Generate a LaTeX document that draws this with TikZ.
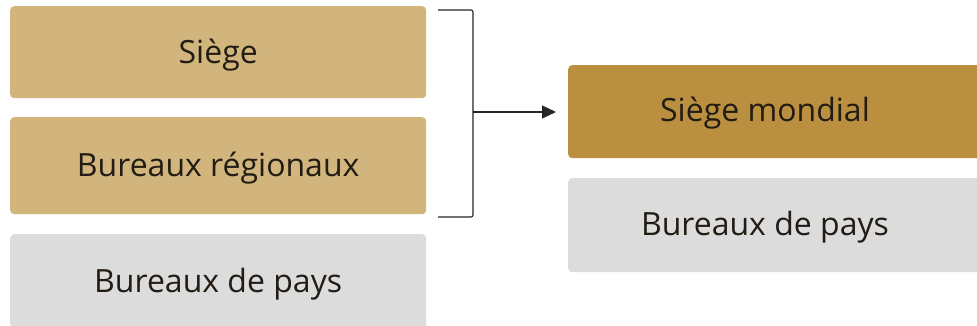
\documentclass[tikz,border=0pt]{standalone}
\usepackage{fontspec}
\setmainfont{Open Sans}
\usetikzlibrary{arrows.meta}
\definecolor{tan}{HTML}{D1B57D}
\definecolor{gold}{HTML}{BA9040}
\definecolor{greybox}{HTML}{DCDCDC}
\definecolor{txt}{HTML}{221C14}
\tikzset{
  box/.style={rounded corners=4pt, inner sep=0pt, minimum height=93pt, anchor=north west},
  lbl/.style={font=\fontsize{32}{38}\selectfont, text=txt, inner sep=0pt},
  brk/.style={draw=black!85, line width=1.1pt},
}
\begin{document}
\begin{tikzpicture}[x=1pt,y=-1pt]
\clip (0,0) rectangle (977,326);
\fill[white] (0,0) rectangle (977,326);
% left column
\node[box, fill=tan, minimum width=416pt, minimum height=92pt] (siege) at (10,6) {};
\node[lbl] at ([yshift=-3pt]siege.center) {Siège};
\node[box, fill=tan, minimum width=416pt, minimum height=97pt] (reg) at (10,117) {};
\node[lbl] at ([yshift=-2pt]reg.center) {Bureaux régionaux};
\node[box, fill=greybox, minimum width=416pt, minimum height=94pt] (paysL) at (10,234) {};
\node[lbl] at ([yshift=-3pt]paysL.center) {Bureaux de pays};
% right column
\node[box, fill=gold, minimum width=420pt, minimum height=93pt] (mond) at (568,65) {};
\node[lbl] (mondt) at (765,113) {Siège mondial};
\node[box, fill=greybox, minimum width=420pt, minimum height=94pt] (paysR) at (568,178) {};
\node[lbl] (paysRt) at (765,227) {Bureaux de pays};
% bracket
\coordinate (bt) at (438,10);
\coordinate (bb) at (438,217);
\coordinate (bm) at (473,112);
\draw[brk, rounded corners=2pt] (bt) -- (473,10) -- (473,217) -- (bb);
\draw[brk, shorten >=12pt, -{Triangle[length=14pt,width=13pt]}] (bm) -- (mond.west |- bm);
\end{tikzpicture}
\end{document}
